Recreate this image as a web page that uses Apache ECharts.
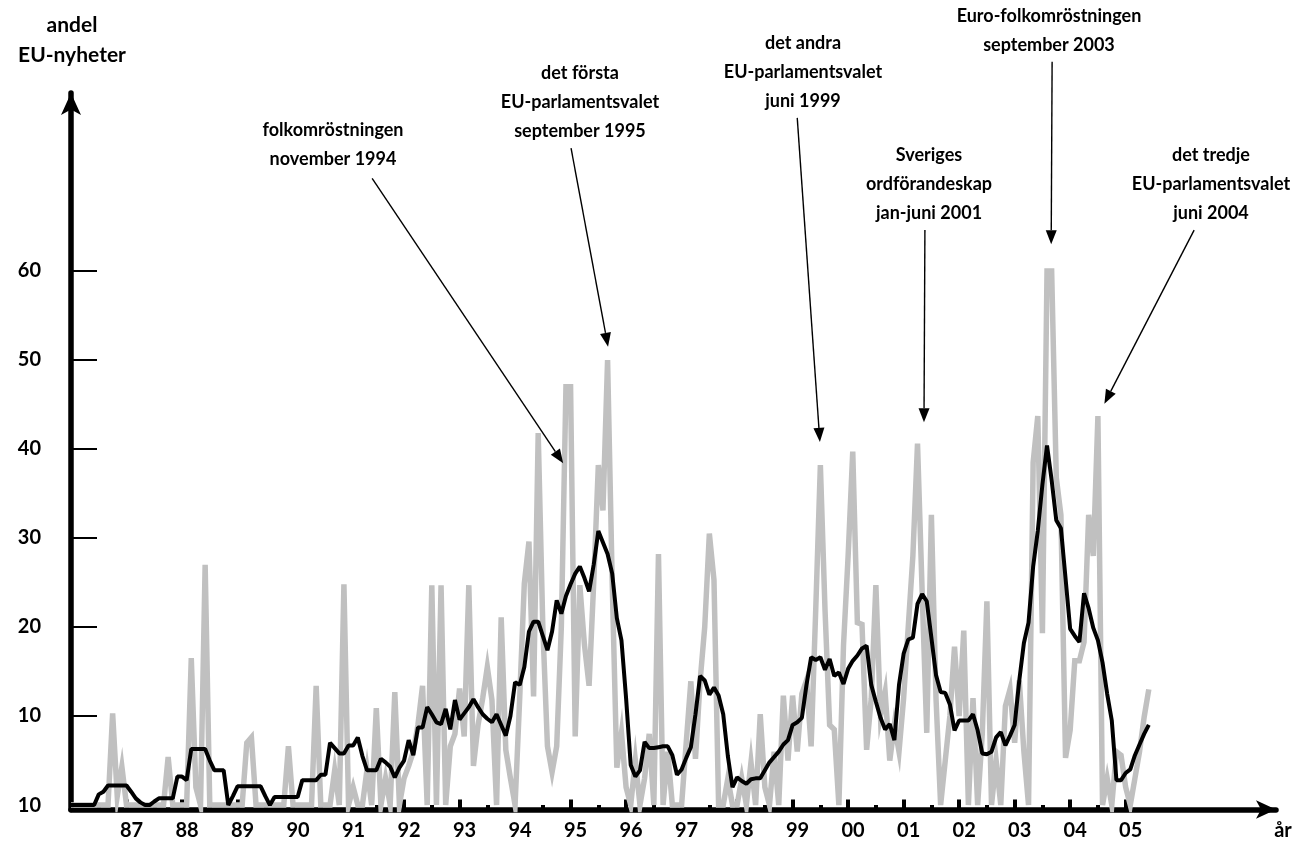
<!DOCTYPE html>
<html>
<head>
<meta charset="utf-8">
<script src="https://cdn.jsdelivr.net/npm/echarts@6/dist/echarts.min.js"></script>
<style>
html,body{margin:0;padding:0;background:#fff;}
#c{width:1293px;height:844px;}
</style>
</head>
<body>
<div id="c"></div>
<script>
// ---- DATA ----
// x categories: monthly observations, January 1986 .. June 2005 (month index 0..233)
const startYear = 1986;
const yearLabels = ['87','88','89','90','91','92','93','94','95','96','97','98','99','00','01','02','03','04','05'];
const yTickValues = [0, 10, 20, 30, 40, 50, 60];
const yTickLabels = ['10', '10', '20', '30', '40', '50', '60'];

// monthly share of EU news (grey line)
const monthlyShare = [
  0,0,0,0,0,0,0,0,0,10.3,1,4.3,            // 1986
  0,0,0,0,0,0,0,0,0,5.4,0,0,               // 1987
  0,0,16.5,2,0,27,0,0,0,0,0,0,             // 1988
  0,0,7,7.6,0,0,0,0,0,0,0,6.6,             // 1989
  0,0,0,0,0,13.4,0,0,0,3.9,0,24.8,         // 1990
  0,2,0,0,4,0,10.9,0,3,0,12.7,0,           // 1991
  3,4.4,6,9,13.4,0,24.7,0,24.7,0,6.6,8,    // 1992
  13.1,7.7,24.7,4.4,9,12,15.5,11.8,0,21.1,6.2,3,   // 1993
  0,12,24.9,29.6,12.2,41.8,20,6.6,3.7,6.6,20,47,   // 1994
  47,7.7,24.7,18,13.4,25,38.2,33.1,50,25,4.2,8.1,  // 1995
  2,0,5,0,3,8,0,28.2,0,6,0,0,              // 1996
  0,7,13.9,5.2,13.9,20,30.5,25.3,0,0,3,0,  // 1997
  0,3,0,4.8,0,10.2,2,0,6,0,12.3,5,         // 1998
  12.3,6,12.5,14,6.6,22,38.2,22,9,8.5,0,17.9,      // 1999
  28,39.7,20.5,20.3,6.2,12,24.7,10,12.7,5,9,6,     // 2000
  12,20,28,40.6,24,8.1,32.6,12,0,5,10,17.8,        // 2001
  10,19.6,0,12,0,8,22.9,0,5,0,11.1,13,             // 2002
  7,14,6,0,38.5,43.7,19.3,60,60,36.8,32.6,5.3,     // 2003
  8.4,16.2,16.2,18.3,32.6,28,43.7,0,3,0,6,5.6,     // 2004
  2,0,3,6,9.9,13                                    // 2005
];

// smoothed share (black line)
const movingAverage = [
  0,0,0,0,0,0,1.2,1.5,2.2,2.2,2.2,2.2,                 // 1986
  2.2,1.5,0.75,0.3,0,0,0.4,0.75,0.75,0.75,0.75,3.2,    // 1987
  3.2,2.8,6.3,6.3,6.3,6.3,5,3.9,3.9,3.9,0,1,           // 1988
  2.1,2.1,2.1,2.1,2.1,2.1,1,0,0.9,0.9,0.9,0.9,         // 1989
  0.9,0.9,2.8,2.8,2.8,2.8,3.4,3.4,7.0,6.4,5.8,5.8,     // 1990
  6.7,6.7,7.6,5.5,3.9,3.9,3.9,5.2,4.8,4.3,3.1,4.2,     // 1991
  5.0,7.3,5.6,8.7,8.7,11.0,10.2,9.3,9.1,10.8,8.5,11.8, // 1992
  9.6,10.3,11.0,11.9,11.0,10.2,9.7,9.3,10.2,9.0,7.8,10.0,     // 1993
  13.8,13.5,15.5,19.5,20.6,20.6,19.0,17.4,19.5,23.0,21.5,23.5, // 1994
  24.8,26.0,26.8,25.5,24.0,27.0,30.8,29.5,28.2,26.0,21.0,18.5, // 1995
  12.0,4.5,3.2,3.9,7.1,6.4,6.4,6.5,6.6,6.6,5.6,3.4,           // 1996
  4.0,5.3,6.5,10.2,14.5,14.0,12.4,13.2,12.3,10.2,5.5,2.0,     // 1997
  3.1,2.7,2.4,2.9,3.0,3.0,3.9,4.8,5.4,6.0,6.8,7.3,            // 1998
  9.0,9.3,9.8,13.5,16.6,16.3,16.6,15.2,16.4,14.5,14.9,13.6,   // 1999
  15.3,16.2,16.8,17.6,17.9,13.5,11.6,9.8,8.5,9.1,7.3,13.5,    // 2000
  17.0,18.6,18.8,22.6,23.7,22.9,18.8,14.6,12.7,12.6,11.3,8.4, // 2001
  9.5,9.5,9.5,10.2,8.4,5.8,5.7,6.0,7.6,8.2,6.7,7.8,           // 2002
  9.0,14.0,18.2,20.5,26.8,30.8,36.0,40.4,36.5,32.0,31.1,25.5, // 2003
  19.8,19.0,18.3,23.8,22.1,19.9,18.5,16.0,12.5,9.5,2.8,2.8,   // 2004
  3.6,4.0,5.6,6.8,8.0,9.0                                      // 2005
];

// annotations: text lines and arrow tip/tail in data units [month index, value]
const annotationTexts = [
  ['folkomröstningen', 'november 1994'],
  ['det första', 'EU-parlamentsvalet', 'september 1995'],
  ['det andra', 'EU-parlamentsvalet', 'juni 1999'],
  ['Sveriges', 'ordförandeskap', 'jan-juni 2001'],
  ['Euro-folkomröstningen', 'september 2003'],
  ['det tredje', 'EU-parlamentsvalet', 'juni 2004']
];
const annotationTails = [[65.1, 70.4], [108.1, 73.8], [157.0, 77.2], [184.6, 64.6], [212.1, 83.5], [242.8, 64.6]];
const annotationTips  = [[106.4, 38.4], [116.1, 51.5], [161.9, 40.8], [184.4, 43.0], [211.9, 63.0], [223.4, 45.1]];
// layout of the text blocks (pixels): centre x and top y
const annotationBoxes = [[333, 116], [580, 59], [803, 29], [929, 141], [1049, 2], [1211, 141]];

// ---- CHART ----
const FONT = 'Lato';
const chart = echarts.init(document.getElementById('c'));
const greyData = monthlyShare.map((v, i) => [i, v]);
const blackData = movingAverage.map((v, i) => [i, v]);
const yearTicks = yearLabels.map((_, k) => 12 * (k + 1));
const halfTicks = yearLabels.map((_, k) => 12 * k + 6);

const xCommon = { type: 'value', min: 0, max: 260.5, position: 'bottom', splitLine: { show: false } };

chart.setOption({
  animation: false,
  backgroundColor: '#fff',
  grid: { left: 71, right: 17, top: 93, bottom: 34.5 },
  xAxis: [
    Object.assign({}, xCommon, {
      axisLine: { onZero: false, lineStyle: { color: '#000', width: 5.5 }, symbol: ['none', 'arrow'], symbolSize: [14, 20] },
      axisTick: { inside: true, length: 10, lineStyle: { color: '#000', width: 4 }, customValues: yearTicks },
      axisLabel: {
        customValues: yearTicks,
        formatter: v => yearLabels[Math.round(v / 12) - 1],
        margin: 11, color: '#000', fontFamily: FONT, fontWeight: 'bold', fontSize: 20,
        padding: [0, 0, 0, 10]
      }
    }),
    Object.assign({}, xCommon, {
      axisLine: { show: false, onZero: false },
      axisTick: { inside: true, length: 4.5, lineStyle: { color: '#000', width: 4 }, customValues: halfTicks },
      axisLabel: { show: false }
    })
  ],
  yAxis: {
    type: 'value', min: -0.5, max: 80,
    splitLine: { show: false },
    axisLine: { onZero: false, lineStyle: { color: '#000', width: 5.5 }, symbol: ['none', 'arrow'], symbolSize: [15, 22] },
    axisTick: { inside: true, length: 26, lineStyle: { color: '#000', width: 2 }, customValues: yTickValues },
    axisLabel: {
      customValues: yTickValues,
      formatter: v => yTickLabels[yTickValues.indexOf(v)],
      margin: 30, color: '#000', fontFamily: FONT, fontWeight: 'bold', fontSize: 20
    }
  },
  series: [
    { type: 'line', data: greyData, showSymbol: false, symbol: 'none', lineStyle: { color: '#c0c0c0', width: 5.5, join: 'miter' }, z: 2 },
    { type: 'line', data: blackData, showSymbol: false, symbol: 'none', lineStyle: { color: '#000', width: 4 }, z: 3 }
  ]
});

// annotations drawn through the chart's own scales
const g = [];
g.push({ type: 'text', x: 72, y: 10, style: { text: 'andel\nEU-nyheter', font: 'bold 21px ' + FONT, fill: '#000', align: 'center', verticalAlign: 'top', lineHeight: 30 } });
g.push({ type: 'text', x: 1283, y: 831, style: { text: 'år', font: 'bold 20px ' + FONT, fill: '#000', align: 'center', verticalAlign: 'middle' } });
annotationTexts.forEach((lines, k) => {
  const [cx, top] = annotationBoxes[k];
  g.push({ type: 'text', x: cx, y: top, style: { text: lines.join('\n'), font: 'bold 18px ' + FONT, fill: '#000', align: 'center', verticalAlign: 'top', lineHeight: 29 } });
  const p0 = chart.convertToPixel({ xAxisIndex: 0, yAxisIndex: 0 }, annotationTails[k]);
  const p1 = chart.convertToPixel({ xAxisIndex: 0, yAxisIndex: 0 }, annotationTips[k]);
  const dx = p1[0] - p0[0], dy = p1[1] - p0[1];
  const L = Math.sqrt(dx * dx + dy * dy), ux = dx / L, uy = dy / L;
  const hl = 14, hw = 5.5;
  const bx = p1[0] - ux * hl, by = p1[1] - uy * hl;
  g.push({ type: 'line', shape: { x1: p0[0], y1: p0[1], x2: bx, y2: by }, style: { stroke: '#000', lineWidth: 1.4 }, z: 10 });
  g.push({ type: 'polygon', shape: { points: [[p1[0], p1[1]], [bx - uy * hw, by + ux * hw], [bx + uy * hw, by - ux * hw]] }, style: { fill: '#000' }, z: 10 });
});
chart.setOption({ graphic: g });
</script>
</body>
</html>
